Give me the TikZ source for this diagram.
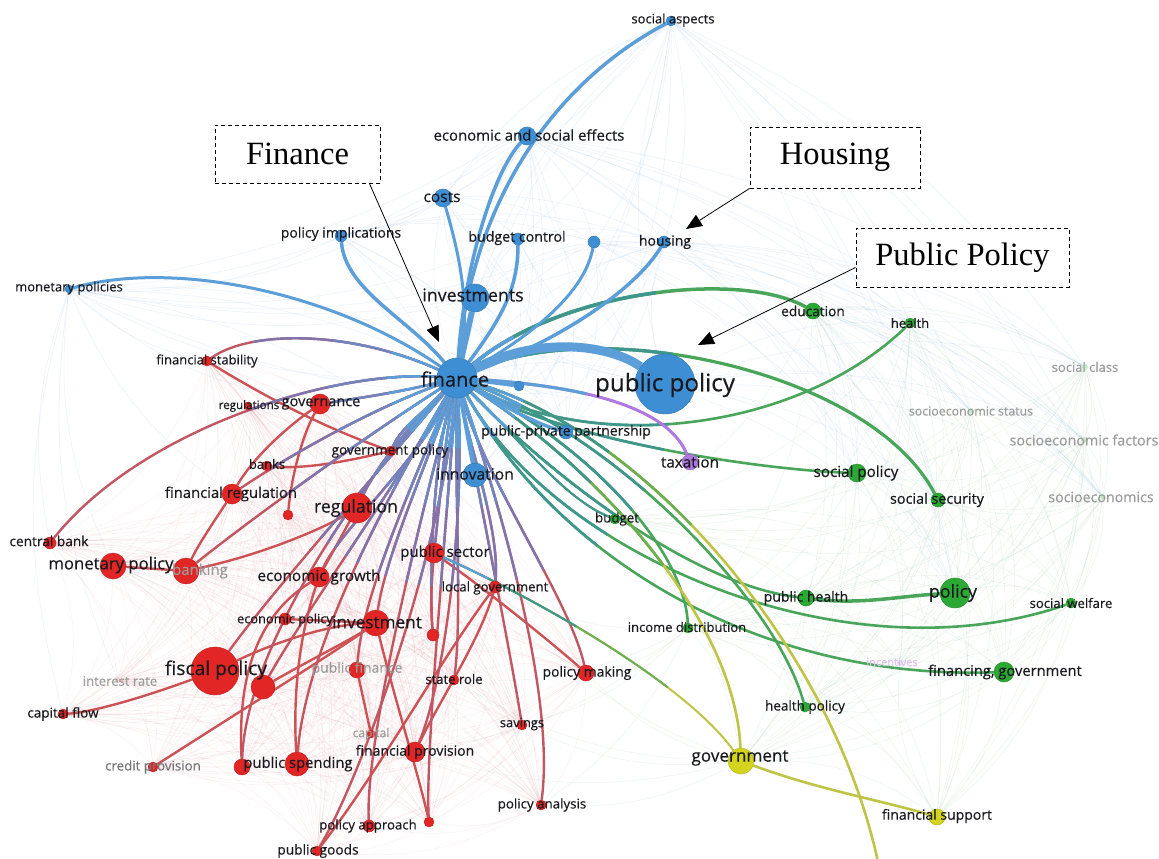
\documentclass[tikz,border=0pt]{standalone}
\usepackage{fontspec}
\setmainfont{Open Sans}
\newfontfamily\lbl{Open Sans}[FakeBold=0.35]
\newfontfamily\tnr{Liberation Serif}
\usetikzlibrary{arrows.meta}
\definecolor{bN}{RGB}{62,142,212}
\definecolor{bE}{RGB}{92,158,216}
\definecolor{rN}{RGB}{226,38,38}
\definecolor{rE}{RGB}{204,82,86}
\definecolor{mE}{RGB}{128,116,172}
\definecolor{gN}{RGB}{44,168,52}
\definecolor{gE}{RGB}{72,165,90}
\definecolor{tE}{RGB}{62,150,140}
\definecolor{yN}{RGB}{212,212,30}
\definecolor{yE}{RGB}{192,196,70}
\definecolor{pN}{RGB}{175,120,225}
\definecolor{txt}{RGB}{25,25,30}
\definecolor{ftxt}{RGB}{155,155,155}
\newcommand\fsz[1]{\lbl\fontsize{#1}{#1}\selectfont}
\newcommand\bsz[1]{\fontsize{#1}{#1}\selectfont}
\pgfdeclarelayer{bg}\pgfdeclarelayer{ed}
\pgfsetlayers{bg,ed,main}
\begin{document}
\begin{tikzpicture}[x=1pt,y=-1pt,
  ball/.style={circle,inner sep=0pt,fill=#1,draw=#1!82!black,line width=0.4pt},
  fball/.style={circle,inner sep=0pt,fill=#1,draw=none},
  lab/.style={text=txt,inner sep=0pt},
  flab/.style={text=ftxt,inner sep=0pt},
  be/.style={draw=bE,line width=3.5pt},
  re/.style={draw=rE,line width=2.4pt},
  ge/.style={draw=gE,line width=2.6pt},
  ye/.style={draw=yE,line width=2.6pt},
  fr/.style={draw=rE!85!mE,line width=2.4pt,postaction={draw=mE,dash pattern=on 190pt off 5000pt},postaction={draw=mE!60!bE,dash pattern=on 110pt off 5000pt},postaction={draw=bE,dash pattern=on 50pt off 5000pt}},
  fg/.style={draw=gE,line width=2.6pt,postaction={draw=tE,dash pattern=on 200pt off 5000pt},postaction={draw=bE,dash pattern=on 50pt off 5000pt}},
  fy/.style={draw=yE,line width=2.6pt,postaction={draw=gE!70!yE,dash pattern=on 260pt off 5000pt},postaction={draw=tE,dash pattern=on 150pt off 5000pt},postaction={draw=bE,dash pattern=on 50pt off 5000pt}},
  bp/.style={draw=pN,line width=3pt,postaction={draw=bE,dash pattern=on 110pt off 5000pt}},
  fbl/.style={draw=bE,opacity=0.10,line width=0.7pt},
  frl/.style={draw=rE,opacity=0.07,line width=0.6pt},
  fgl/.style={draw=gE,opacity=0.09,line width=0.6pt},
  annot/.style={draw=black,line width=0.8pt,-{Triangle[length=16pt,width=13pt]}},
  abox/.style={draw=black,dash pattern=on 4pt off 3pt,line width=0.9pt,fill=white,font=\tnr\bsz{32.5},inner sep=0pt}
]
\useasboundingbox (0,0) rectangle (1159,859);

% ---------- blue nodes
\node[ball=bN,minimum size=40pt] (fin) at (457,378) {};
\node[ball=bN,minimum size=60pt] (pp) at (665,384) {};
\node[ball=bN,minimum size=28pt] (inv) at (475,298) {};
\node[ball=bN,minimum size=18pt] (cos) at (443,198) {};
\node[ball=bN,minimum size=18pt] (ese) at (527,136) {};
\node[ball=bN,minimum size=10pt] (sa) at (671,21) {};
\node[ball=bN,minimum size=12pt] (pim) at (341,236) {};
\node[ball=bN,minimum size=12pt] (bc) at (518,239) {};
\node[ball=bN,minimum size=12pt] (bx) at (594,242) {};
\node[ball=bN,minimum size=12pt] (hou) at (664,242) {};
\node[ball=bN,minimum size=8pt] (mps) at (69,289) {};
\node[ball=bN,minimum size=10pt] (bsm) at (519,386) {};
\node[ball=bN,minimum size=14pt] (ppp) at (566,432) {};
\node[ball=bN,minimum size=24pt] (inn) at (475,475) {};
% purple
\node[ball=pN,minimum size=16pt] (tax) at (690,462) {};
\node[fball=pN!30,minimum size=6pt] (inc) at (900,663) {};
% green
\node[ball=gN,minimum size=16pt] (edu) at (813,311) {};
\node[ball=gN,minimum size=10pt] (hea) at (910,323) {};
\node[fball=gN!25,minimum size=6pt] (scl) at (1085,367) {};
\node[fball=gN!25,minimum size=6pt] (sst) at (971,411) {};
\node[fball=gN!25,minimum size=6pt] (sfa) at (1084,440) {};
\node[fball=gN!25,minimum size=6pt] (sec) at (1103,497) {};
\node[ball=gN,minimum size=18pt] (spo) at (857,473) {};
\node[ball=gN,minimum size=14pt] (ssc) at (938,500) {};
\node[ball=gN,minimum size=10pt] (bud) at (615,519) {};
\node[ball=gN,minimum size=16pt] (phe) at (806,598) {};
\node[ball=gN,minimum size=30pt] (pol) at (955,593) {};
\node[ball=gN,minimum size=10pt] (swe) at (1071,603) {};
\node[ball=gN,minimum size=10pt] (idi) at (688,628) {};
\node[ball=gN,minimum size=20pt] (fgo) at (1004,672) {};
\node[ball=gN,minimum size=10pt] (hpo) at (805,707) {};
% yellow
\node[ball=yN,minimum size=26pt] (gov) at (741,761) {};
\node[ball=yN,minimum size=16pt] (fsu) at (937,817) {};
\coordinate (yend) at (878,862);
% red
\node[ball=rN,minimum size=10pt] (fst) at (207,361) {};
\node[ball=rN,minimum size=8pt] (rgs) at (248,406) {};
\node[ball=rN,minimum size=20pt] (gvn) at (320,404) {};
\node[ball=rN,minimum size=10pt] (gpo) at (391,451) {};
\node[ball=rN,minimum size=10pt] (bnk) at (267,466) {};
\node[ball=rN,minimum size=20pt] (frg) at (232,494) {};
\node[ball=rN,minimum size=10pt] (rx1) at (288,515) {};
\node[ball=rN,minimum size=30pt] (reg) at (357,508) {};
\node[ball=rN,minimum size=12pt] (cbk) at (50,543) {};
\node[ball=rN,minimum size=26pt] (mpo) at (113,566) {};
\node[ball=rN,minimum size=26pt] (bkg) at (186,571) {};
\node[ball=rN,minimum size=20pt] (egr) at (319,577) {};
\node[ball=rN,minimum size=20pt] (pse) at (434,553) {};
\node[ball=rN,minimum size=12pt] (lgo) at (495,587) {};
\node[ball=rN,minimum size=12pt] (epo) at (285,619) {};
\node[ball=rN,minimum size=26pt] (ivt) at (376,623) {};
\node[ball=rN,minimum size=12pt] (rx2) at (433,635) {};
\node[ball=rN,minimum size=48pt] (fpo) at (215,671) {};
\node[ball=rN,minimum size=24pt] (rx3) at (263,687) {};
\node[ball=rN,minimum size=16pt] (pfi) at (357,670) {};
\node[fball=rN!25,minimum size=6pt] (irt) at (118,680) {};
\node[ball=rN,minimum size=10pt] (sro) at (454,680) {};
\node[ball=rN,minimum size=16pt] (pmk) at (586,673) {};
\node[ball=rN,minimum size=10pt] (cfl) at (63,714) {};
\node[ball=rN,minimum size=10pt] (sav) at (522,725) {};
\node[ball=rN,minimum size=8pt] (cap) at (371,734) {};
\node[ball=rN,minimum size=20pt] (fpr) at (415,752) {};
\node[ball=rN,minimum size=10pt] (cpr) at (153,767) {};
\node[ball=rN,minimum size=16pt] (psp1) at (242,767) {};
\node[ball=rN,minimum size=24pt] (psp) at (297,764) {};
\node[ball=rN,minimum size=10pt] (pan) at (541,805) {};
\node[ball=rN,minimum size=12pt] (pap) at (369,826) {};
\node[ball=rN,minimum size=10pt] (rx4) at (429,822) {};
\node[ball=rN,minimum size=10pt] (pgo) at (317,851) {};

% ---------- faint background web
\begin{pgfonlayer}{bg}
\fill[white] (0,0) rectangle (1159,859);
\foreach \a [count=\i] in {fst,rgs,gvn,gpo,bnk,frg,rx1,reg,cbk,mpo,bkg,egr,pse,lgo,epo,ivt,rx2,fpo,rx3,pfi,irt,sro,pmk,cfl,sav,cap,fpr,cpr,psp1,psp,pan,pap,rx4,pgo}{
  \foreach \b [count=\j] in {fst,rgs,gvn,gpo,bnk,frg,rx1,reg,cbk,mpo,bkg,egr,pse,lgo,epo,ivt,rx2,fpo,rx3,pfi,irt,sro,pmk,cfl,sav,cap,fpr,cpr,psp1,psp,pan,pap,rx4,pgo}{
    \ifnum\i<\j \draw[frl] (\a) to[bend left=18] (\b); \fi }}
\foreach \a [count=\i] in {edu,hea,scl,sst,sfa,sec,spo,ssc,bud,phe,pol,swe,idi,fgo,hpo,gov,fsu,inc}{
  \foreach \b [count=\j] in {edu,hea,scl,sst,sfa,sec,spo,ssc,bud,phe,pol,swe,idi,fgo,hpo,gov,fsu,inc}{
    \ifnum\i<\j \draw[fgl] (\a) to[bend left=18] (\b); \fi }}
\foreach \a [count=\i] in {fin,pp,inv,cos,ese,sa,pim,bc,bx,hou,mps,bsm,ppp,inn}{
  \foreach \b [count=\j] in {fin,pp,inv,cos,ese,sa,pim,bc,bx,hou,mps,bsm,ppp,inn}{
    \ifnum\i<\j \draw[fbl] (\a) to[bend left=15] (\b); \fi }}
\foreach \a in {sa,ese,hou,bx,pp,edu}{
  \foreach \b in {hea,scl,sst,sfa,sec,spo,pol,ssc}{
    \draw[fbl] (\a) to[bend left=15] (\b); }}
\foreach \b in {fst,cbk,mpo,cfl,gvn,frg,irt}{ \draw[fbl] (mps) to[bend right=15] (\b); }
\foreach \b in {pmk,sav,pan,lgo,fpr,sro}{ \draw[fgl] (gov) to[bend left=15] (\b); \draw[fgl] (idi) to[bend left=15] (\b);}
\end{pgfonlayer}

% ---------- main connectors
\begin{pgfonlayer}{ed}
% red internal
\draw[re] (fst) .. controls (270,400) and (330,430) .. (gpo);
\draw[re] (frg) .. controls (255,455) and (290,425) .. (gvn);
\draw[re] (frg) .. controls (215,520) and (198,545) .. (bkg);
\draw[re] (bnk) .. controls (310,470) and (360,458) .. (gpo);
\draw[re] (rx1) .. controls (292,470) and (305,430) .. (gvn);
\draw[re] (mpo) -- (bkg);
\draw[re] (fpo) .. controls (280,640) and (330,625) .. (ivt);
\draw[re] (fpo) .. controls (150,695) and (95,712) .. (cfl);
\draw[re] (rx3) .. controls (310,660) and (350,640) .. (ivt);
\draw[re] (cpr) .. controls (250,705) and (330,655) .. (ivt);
\draw[re] (psp1) .. controls (238,690) and (250,620) .. (egr);
\draw[re] (psp) .. controls (293,700) and (298,640) .. (egr);
\draw[re] (pfi) -- (cap);
\draw[re] (pgo) .. controls (380,770) and (440,660) .. (lgo);
\draw[re] (ivt) .. controls (395,700) and (420,780) .. (rx4);
\draw[re] (fpr) .. controls (440,700) and (480,640) .. (lgo);
\draw[re] (pse) .. controls (500,600) and (560,650) .. (pmk);
\draw[re] (egr) -- (reg);
\draw[re] (rx2) .. controls (430,600) and (432,580) .. (pse);
\draw[re] (bkg) .. controls (260,555) and (320,530) .. (reg);
\draw[re] (epo) -- (ivt);
% finance to red
\draw[fr] (fin) .. controls (330,370) and (140,430) .. (cbk);
\draw[fr] (fin) .. controls (400,392) and (360,398) .. (gvn);
\draw[fr] (fin) .. controls (370,410) and (290,455) .. (frg);
\draw[fr] (fin) .. controls (405,430) and (375,470) .. (reg);
\draw[fr] (fin) .. controls (360,440) and (250,520) .. (bkg);
\draw[fr] (fin) .. controls (420,460) and (340,530) .. (egr);
\draw[fr] (fin) .. controls (445,440) and (440,500) .. (pse);
\draw[fr] (fin) .. controls (470,450) and (500,530) .. (lgo);
\draw[fr] (fin) .. controls (420,480) and (385,560) .. (ivt);
\draw[fr] (fin) .. controls (380,470) and (265,600) .. (fpo);
\draw[fr] (fin) .. controls (400,480) and (300,620) .. (rx3);
\draw[fr] (fin) .. controls (405,500) and (362,600) .. (pfi);
\draw[fr] (fin) .. controls (455,500) and (462,620) .. (sro);
\draw[fr] (fin) .. controls (485,480) and (570,600) .. (pmk);
\draw[fr] (fin) .. controls (480,500) and (510,650) .. (sav);
\draw[fr] (fin) .. controls (505,520) and (555,700) .. (pan);
\draw[fr] (fin) .. controls (465,520) and (445,680) .. (fpr);
\draw[fr] (fin) .. controls (385,500) and (305,650) .. (psp);
\draw[fr] (fin) .. controls (360,480) and (245,650) .. (psp1);
\draw[fr] (fin) .. controls (420,520) and (365,740) .. (pap);
\draw[fr] (fin) .. controls (445,540) and (425,760) .. (rx4);
\draw[fr] (fin) .. controls (415,420) and (400,430) .. (gpo);
\draw[fr] (fin) .. controls (350,330) and (250,330) .. (fst);
\draw[fr] (fin) .. controls (430,470) and (430,600) .. (rx2);
\draw[fr] (fin) .. controls (440,560) and (360,780) .. (pgo);
% finance to green / yellow
\draw[fg] (fin) .. controls (600,455) and (800,430) .. (hea);
\draw[fg] (fin) .. controls (560,440) and (760,470) .. (spo);
\draw[fg,line width=2pt] (fin) .. controls (520,440) and (565,500) .. (bud);
\draw[fg] (fin) .. controls (545,470) and (690,585) .. (phe);
\draw[fg] (fin) .. controls (560,560) and (850,680) .. (swe);
\draw[fg] (fin) .. controls (560,560) and (760,680) .. (fgo);
\draw[fg] (fin) .. controls (610,460) and (685,560) .. (idi);
\draw[fg] (fin) .. controls (620,440) and (775,600) .. (hpo);
\draw[ge,line width=3.5pt] (phe) .. controls (860,605) and (900,596) .. (pol);
\draw[fy] (fin) .. controls (600,470) and (735,620) .. (gov);
\draw[fy] (fin) .. controls (640,430) and (830,640) .. (yend);
\draw[fy,line width=2pt] (pse) .. controls (560,610) and (690,690) .. (gov);
\draw[ye] (gov) .. controls (820,790) and (880,800) .. (fsu);
\draw[fg,line width=3.2pt] (fin) .. controls (600,315) and (870,370) .. (ssc);
\draw[fg,line width=3.5pt] (fin) .. controls (560,290) and (740,270) .. (edu);
% finance to blue
\draw[be] (fin) .. controls (470,220) and (540,90) .. (sa);
\draw[be] (fin) .. controls (465,260) and (495,170) .. (ese);
\draw[be,line width=3pt] (fin) .. controls (472,300) and (455,240) .. (cos);
\draw[be] (fin) .. controls (410,320) and (345,290) .. (pim);
\draw[be] (fin) .. controls (500,320) and (518,290) .. (bc);
\draw[be,line width=3pt] (fin) .. controls (540,330) and (585,290) .. (bx);
\draw[be] (fin) .. controls (560,340) and (635,290) .. (hou);
\draw[be,line width=3pt] (fin) .. controls (330,290) and (170,260) .. (mps);
\draw[be,line width=6pt] (fin) -- (inv);
\draw[be] (fin) -- (bsm);
\draw[be] (fin) .. controls (510,410) and (540,425) .. (ppp);
\draw[be,line width=4pt] (fin) -- (inn);
\draw[bp] (fin) .. controls (560,385) and (665,400) .. (tax);
\draw[be,line width=9pt] (fin) .. controls (540,335) and (610,345) .. (pp);
\end{pgfonlayer}

% ---------- labels
\node[lab,font=\fsz{13}] (sa-l) at (673,20) {social aspects};
\node[lab,font=\fsz{14.9}] (ese-l) at (529,135) {economic and social effects};
\node[lab,font=\fsz{15.5}] (cos-l) at (442,197) {costs};
\node[lab,font=\fsz{14}] (pim-l) at (341,234) {policy implications};
\node[lab,font=\fsz{14.2}] (bc-l) at (517,238) {budget control};
\node[lab,font=\fsz{14}] (hou-l) at (665,242) {housing};
\node[lab,font=\fsz{17.8}] (inv-l) at (473,295) {investments};
\node[lab,font=\fsz{13}] (mps-l) at (69,288) {monetary policies};
\node[lab,font=\fsz{20}] (fin-l) at (455,379) {finance};
\node[lab,font=\fsz{24.2}] (pp-l) at (665,385) {public policy};
\node[lab,font=\fsz{14}] (ppp-l) at (566,432) {public-private partnership};
\node[lab,font=\fsz{15.7}] (inn-l) at (475,474) {innovation};
\node[lab,font=\fsz{15.2}] (tax-l) at (690,462) {taxation};
\node[lab,font=\fsz{13.7}] (edu-l) at (813,311) {education};
\node[lab,font=\fsz{13}] (hea-l) at (910,323) {health};
\node[flab,font=\fsz{13}] (scl-l) at (1085,367) {social class};
\node[flab,font=\fsz{12.4}] (sst-l) at (971,411) {socioeconomic status};
\node[flab,font=\fsz{14.3}] (sfa-l) at (1084,440) {socioeconomic factors};
\node[flab,font=\fsz{14.2}] (sec-l) at (1101,497) {socioeconomics};
\node[lab,font=\fsz{15.2}] (spo-l) at (856,473) {social policy};
\node[lab,font=\fsz{14.4}] (ssc-l) at (937,500) {social security};
\node[lab,font=\fsz{13.3}] (bud-l) at (617,519) {budget};
\node[lab,font=\fsz{14}] (phe-l) at (806,598) {public health};
\node[lab,font=\fsz{17.8}] (pol-l) at (953,593) {policy};
\node[lab,font=\fsz{13.1}] (swe-l) at (1071,603) {social welfare};
\node[lab,font=\fsz{13}] (idi-l) at (687,627) {income distribution};
\node[flab,text=pN!45,font=\fsz{11}] (inc-l) at (892,662) {incentives};
\node[lab,font=\fsz{14.7}] (fgo-l) at (1005,672) {financing, government};
\node[lab,font=\fsz{13.5}] (hpo-l) at (805,707) {health policy};
\node[lab,font=\fsz{17.1}] (gov-l) at (740,758) {government};
\node[lab,font=\fsz{14}] (fsu-l) at (937,816) {financial support};
\node[lab,font=\fsz{13}] (fst-l) at (207,361) {financial stability};
\node[lab,font=\fsz{11.6}] (rgs-l) at (249,406) {regulations};
\node[lab,font=\fsz{14.5}] (gvn-l) at (321,404) {governance};
\node[lab,font=\fsz{13.5}] (gpo-l) at (390,451) {government policy};
\node[lab,font=\fsz{13}] (bnk-l) at (267,464) {banks};
\node[lab,font=\fsz{14.8}] (frg-l) at (231,494) {financial regulation};
\node[lab,font=\fsz{17.7}] (reg-l) at (356,508) {regulation};
\node[lab,font=\fsz{13.7}] (cbk-l) at (49,541) {central bank};
\node[lab,font=\fsz{16.7}] (mpo-l) at (111,565) {monetary policy};
\node[flab,font=\fsz{15}] (bkg-l) at (200,571) {banking};
\node[lab,font=\fsz{15.3}] (egr-l) at (319,577) {economic growth};
\node[lab,font=\fsz{15}] (pse-l) at (445,553) {public sector};
\node[lab,font=\fsz{13.2}] (lgo-l) at (495,588) {local government};
\node[lab,font=\fsz{12.8}] (epo-l) at (285,620) {economic policy};
\node[lab,font=\fsz{17.2}] (ivt-l) at (377,622) {investment};
\node[lab,font=\fsz{19.2}] (fpo-l) at (216,670) {fiscal policy};
\node[flab,font=\fsz{14}] (pfi-l) at (357,669) {public finance};
\node[flab,font=\fsz{13.1}] (irt-l) at (120,681) {interest rate};
\node[lab,font=\fsz{13.1}] (sro-l) at (454,679) {state role};
\node[lab,font=\fsz{13.9}] (pmk-l) at (587,673) {policy making};
\node[lab,font=\fsz{13.5}] (cfl-l) at (63,714) {capital flow};
\node[lab,font=\fsz{12.9}] (sav-l) at (522,724) {savings};
\node[flab,font=\fsz{12}] (cap-l) at (371,734) {capital};
\node[lab,font=\fsz{14}] (fpr-l) at (415,752) {financial provision};
\node[flab,text=txt!60,font=\fsz{13.3}] (cpr-l) at (153,767) {credit provision};
\node[lab,font=\fsz{14.8}] (psp-l) at (298,764) {public spending};
\node[lab,font=\fsz{13.3}] (pan-l) at (542,805) {policy analysis};
\node[lab,font=\fsz{13.2}] (pap-l) at (368,826) {policy approach};
\node[lab,font=\fsz{13.7}] (pgo-l) at (318,851) {public goods};

% ---------- annotation boxes
\node[abox,minimum width=165pt,minimum height=58pt] (fbox) at (297.5,154) {Finance};
\node[abox,minimum width=170pt,minimum height=61pt] (hbox) at (835,157.5) {Housing};
\node[abox,minimum width=213pt,minimum height=59pt] (pbox) at (962.5,257.5) {Public Policy};
\coordinate (fa) at (439,342);
\coordinate (ha) at (686,229);
\coordinate (pa) at (698,345);
\draw[annot] ([xshift=-11pt]fbox.south east) -- (fa);
\draw[annot] (hbox.south west) -- (ha);
\draw[annot] ([yshift=-10pt]pbox.west) -- (pa);
\end{tikzpicture}
\end{document}
